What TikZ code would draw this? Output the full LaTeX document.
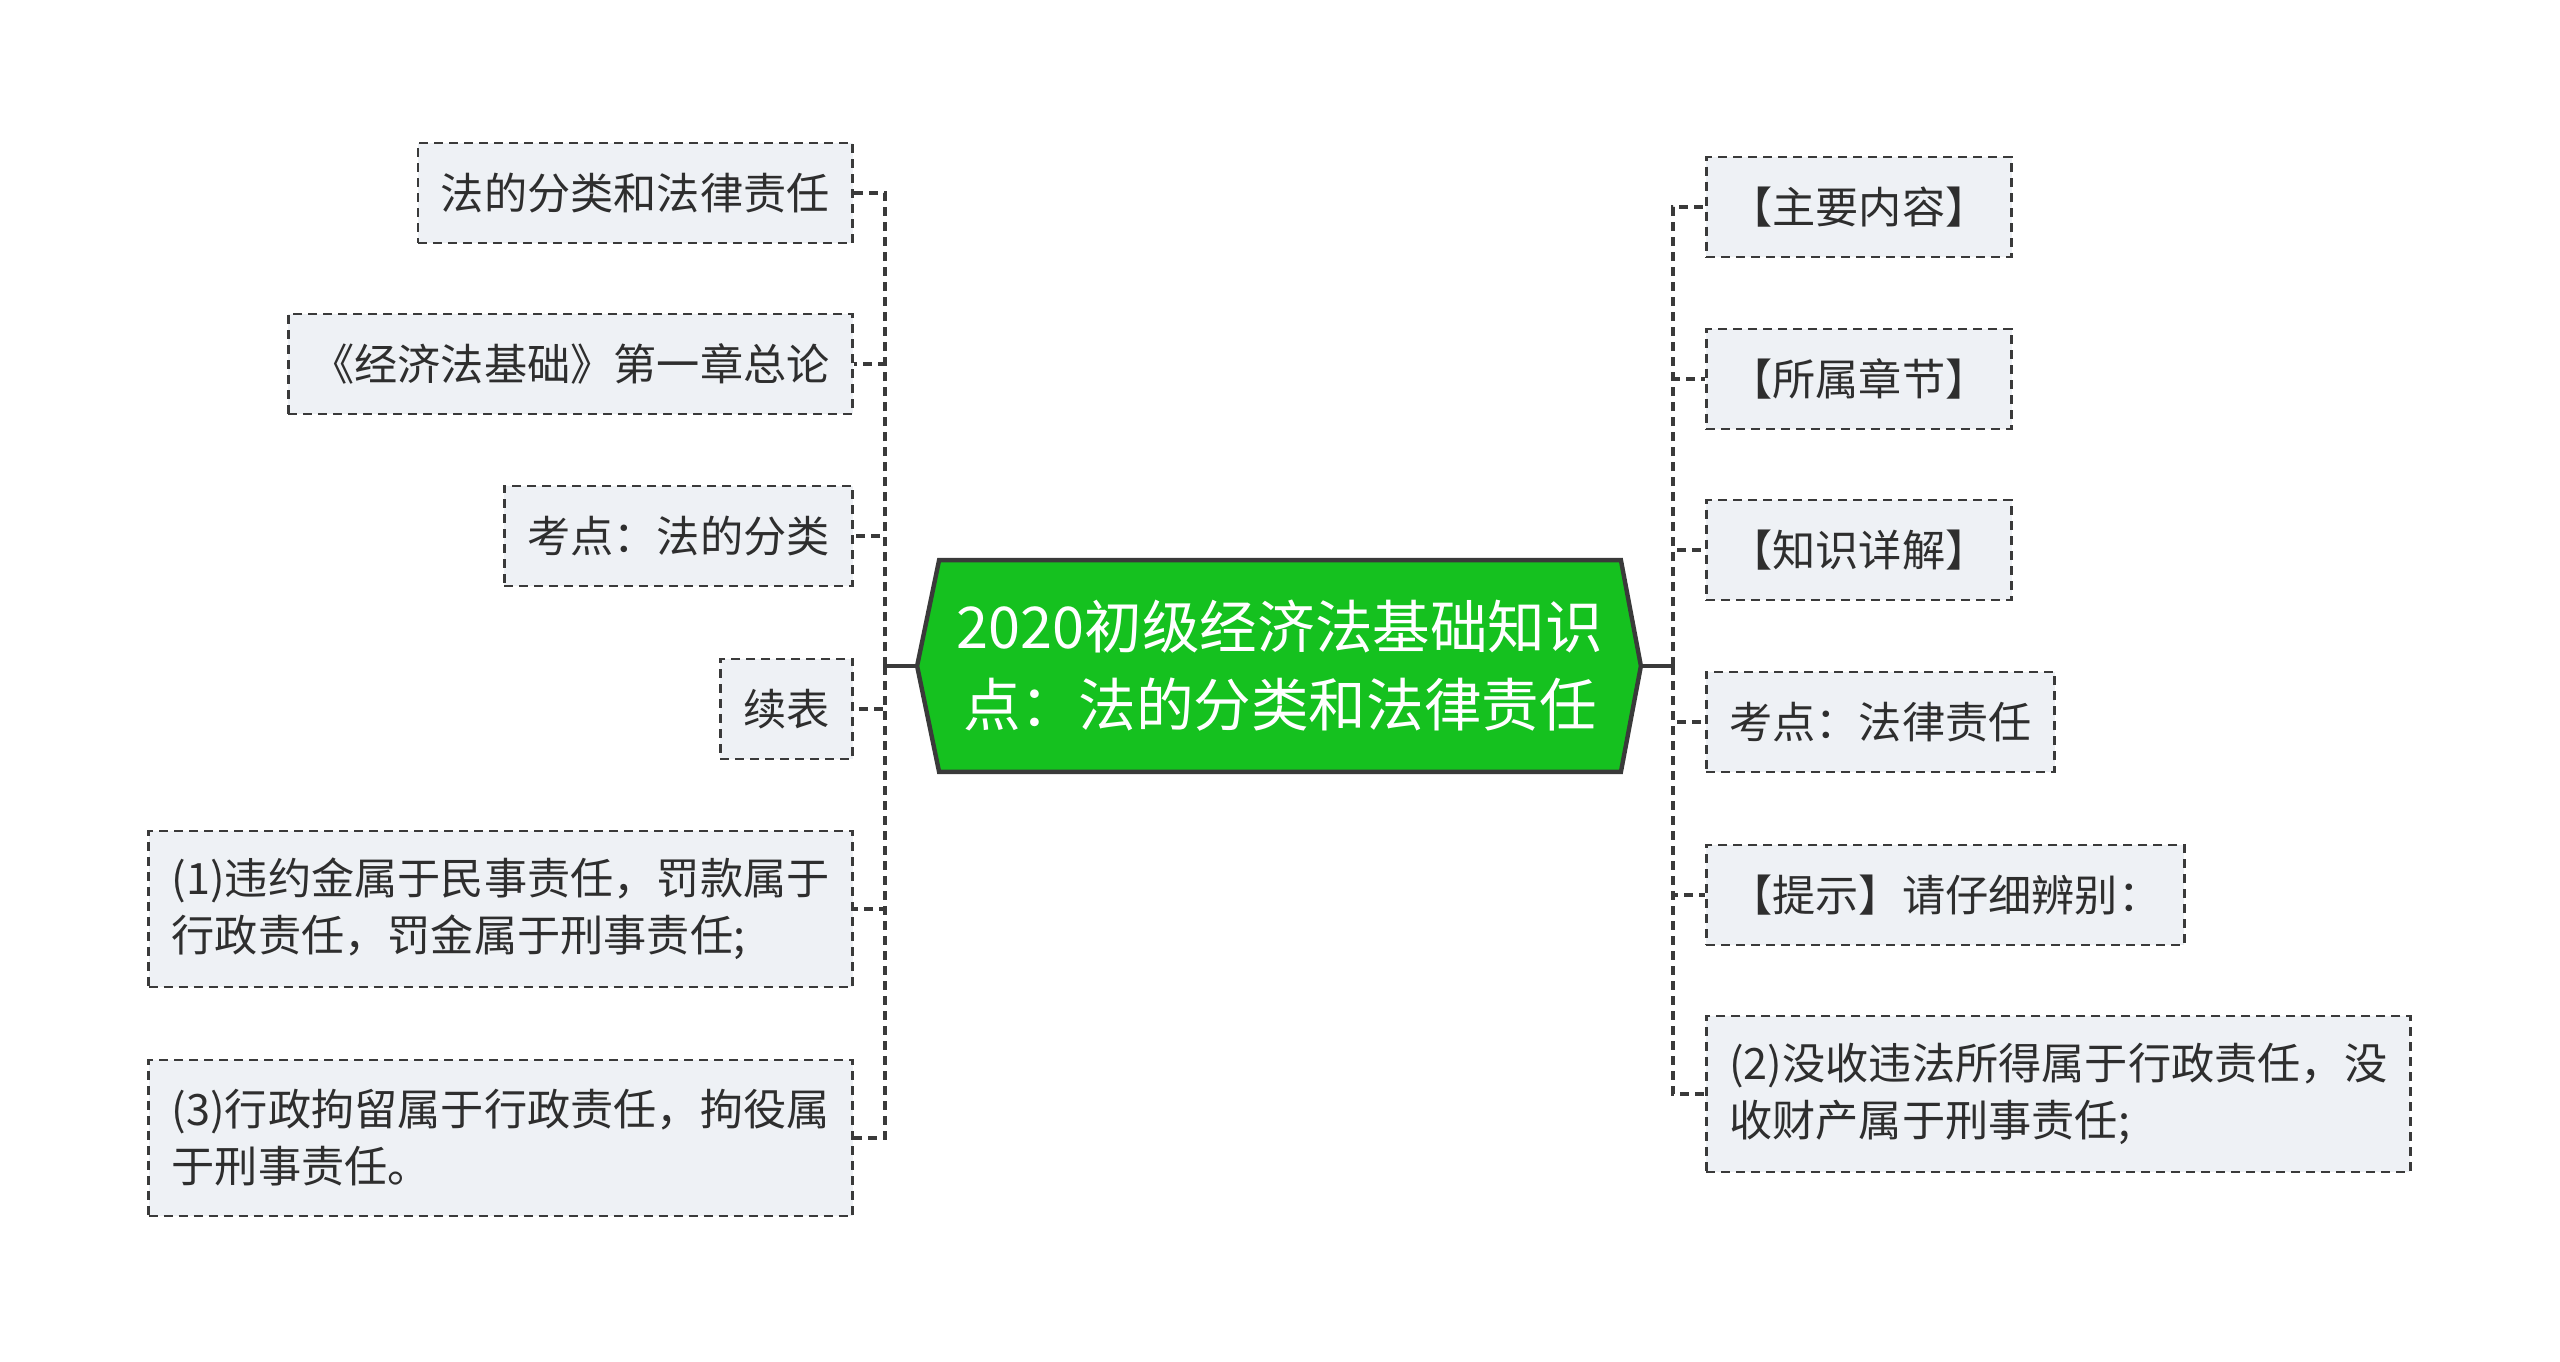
\documentclass[tikz,border=0pt]{standalone}
\usepackage{fontspec}
\usetikzlibrary{backgrounds}
\newfontfamily\cjk{Noto Sans CJK SC}
\definecolor{rootgreen}{HTML}{15C11F}
\definecolor{boxfill}{HTML}{EEF1F5}
\definecolor{linegray}{HTML}{3A3A3A}
\definecolor{txtgray}{HTML}{2E2E2E}

\begin{document}
\begin{tikzpicture}[x=0.5pt,y=-0.5pt,
  leaf/.style={draw=linegray, fill=boxfill, line width=1.3pt, dash pattern=on 4.5pt off 3pt,
    inner xsep=11.5pt, minimum height=50pt, text=txtgray, font=\cjk\fontsize{21.6}{28.5}\selectfont},
  leafwide/.style={leaf, align=left, minimum height=78pt},
  conn/.style={draw=linegray, line width=2pt, dash pattern=on 4.5pt off 3pt},
  stub/.style={draw=linegray, line width=2pt}]
			\useasboundingbox (0,0) rectangle (2560,1361);
			% central topic
			\node (root) [minimum width=340.5pt, minimum height=105.5pt, align=center, text=white,
			  font=\cjk\fontsize{28.8}{39}\selectfont] at (1280,666) {2020初级经济法基础知识\\点：法的分类和法律责任};
			\coordinate (rootL) at ([xshift=-11pt]root.west);
			\coordinate (rootR) at ([xshift=10pt]root.east);
			\begin{scope}[on background layer]
				\draw[stub, line width=2.2pt, fill=rootgreen] (rootL) -- (root.north west) -- (root.north east) -- (rootR) -- (root.south east) -- (root.south west) -- cycle;
			\end{scope}
			% left branches
			\node (l1) [leaf, anchor=east] at (854,193) {法的分类和法律责任};
			\node (l2) [leaf, anchor=east] at (854,364) {《经济法基础》第一章总论};
			\node (l3) [leaf, anchor=east] at (854,536) {考点：法的分类};
			\node (l4) [leaf, anchor=east] at (854,709) {续表};
			\node (l5) [leafwide, anchor=east] at (854,909) {(1)违约金属于民事责任，罚款属于\\行政责任，罚金属于刑事责任;};
			\node (l6) [leafwide, anchor=east] at (854,1138) {(3)行政拘留属于行政责任，拘役属\\于刑事责任。};
			% right branches
			\node (r1) [leaf, anchor=west] at (1705,207) {【主要内容】};
			\node (r2) [leaf, anchor=west] at (1705,379) {【所属章节】};
			\node (r3) [leaf, anchor=west] at (1705,550) {【知识详解】};
			\node (r4) [leaf, anchor=west] at (1705,722) {考点：法律责任};
			\node (r5) [leaf, anchor=west] at (1705,895) {【提示】请仔细辨别：};
			\node (r6) [leafwide, anchor=west] at (1705,1094) {(2)没收违法所得属于行政责任，没\\收财产属于刑事责任;};
			% connectors
			\coordinate (lhub) at (885,666);
			\coordinate (rhub) at (1673,666);
			\draw[stub] (rootL) -- (lhub);
			\draw[stub] (rootR) -- (rhub);
			\foreach \n in {l1,l2,l3,l4,l5,l6}
				\draw[conn] (lhub) |- (\n.east);
			\foreach \n in {r1,r2,r3,r4,r5,r6}
				\draw[conn] (rhub) |- (\n.west);
		\end{tikzpicture}
\end{document}
